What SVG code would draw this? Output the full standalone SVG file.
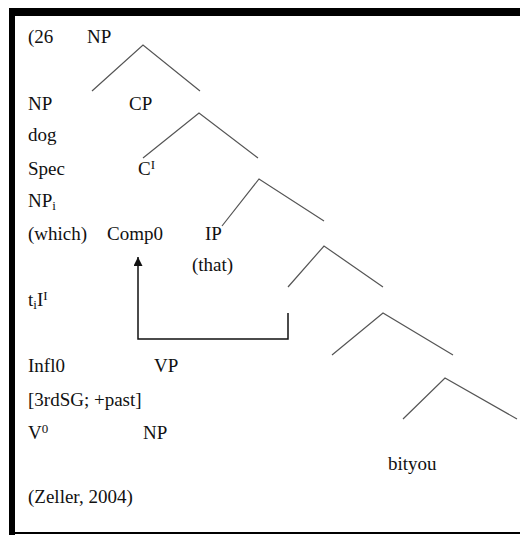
<svg xmlns="http://www.w3.org/2000/svg" width="520" height="535" viewBox="0 0 520 535">
<defs>
<style>
text{font-family:"Liberation Serif","Times New Roman",serif;font-size:19px;fill:#111}
.sub{font-size:13px}
.br{stroke:#555;stroke-width:1.2;fill:none}
.mv{stroke:#111;stroke-width:1.5;fill:none}
</style>
<marker id="ah" viewBox="0 0 10 10" refX="10" refY="5" markerWidth="9" markerHeight="9" markerUnits="userSpaceOnUse" orient="auto"><path d="M0,0 L10,5 L0,10 Z" fill="#111"/></marker>
</defs>
<rect width="520" height="535" fill="#fff"/>
<g id="frame">
<rect x="9" y="8" width="511" height="8" fill="#000"/>
<rect x="9" y="8" width="6" height="527" fill="#000"/>
<rect x="9" y="532" width="511" height="2" fill="#000"/>
</g>
<g id="connectors">
<polyline class="br" points="92,91 143,45 200,91"/>
<polyline class="br" points="143,158 199,113 258,158"/>
<polyline class="br" points="222,226 259,179 324,221"/>
<polyline class="br" points="288,287 324,246 383,287"/>
<polyline class="br" points="332,355 383,313 453,355"/>
<polyline class="br" points="403,419 445,378 517,419"/>
<polyline class="mv" points="288,313 288,339 138,339 138,257" marker-end="url(#ah)"/>
</g>
<g id="n-label"><text x="28" y="43">(26</text></g>
<g id="n-np-root"><text x="87" y="43">NP</text></g>
<g id="n-np"><text x="28" y="110">NP</text></g>
<g id="n-cp"><text x="129" y="110">CP</text></g>
<g id="n-dog"><text x="28" y="141">dog</text></g>
<g id="n-spec"><text x="28" y="175">Spec</text></g>
<g id="n-cbar"><text x="138" y="175">C<tspan class="sub" dy="-6">I</tspan></text></g>
<g id="n-npi"><text x="28" y="207">NP<tspan class="sub" dy="3">i</tspan></text></g>
<g id="n-which"><text x="28" y="240">(which)</text></g>
<g id="n-comp0"><text x="107" y="240">Comp0</text></g>
<g id="n-ip"><text x="205" y="240">IP</text></g>
<g id="n-that"><text x="192" y="271">(that)</text></g>
<g id="n-ti"><text x="28" y="306">t<tspan class="sub" dy="3">i</tspan><tspan dy="-3">I</tspan><tspan class="sub" dy="-6">I</tspan></text></g>
<g id="n-infl0"><text x="28" y="372">Infl0</text></g>
<g id="n-vp"><text x="154" y="372">VP</text></g>
<g id="n-feat"><text x="28" y="406">[3rdSG; +past]</text></g>
<g id="n-v0"><text x="28" y="439">V<tspan class="sub" dy="-6">0</tspan></text></g>
<g id="n-np2"><text x="143" y="439">NP</text></g>
<g id="n-bityou"><text x="388" y="470">bityou</text></g>
<g id="n-cite"><text x="28" y="503">(Zeller, 2004)</text></g>
</svg>
